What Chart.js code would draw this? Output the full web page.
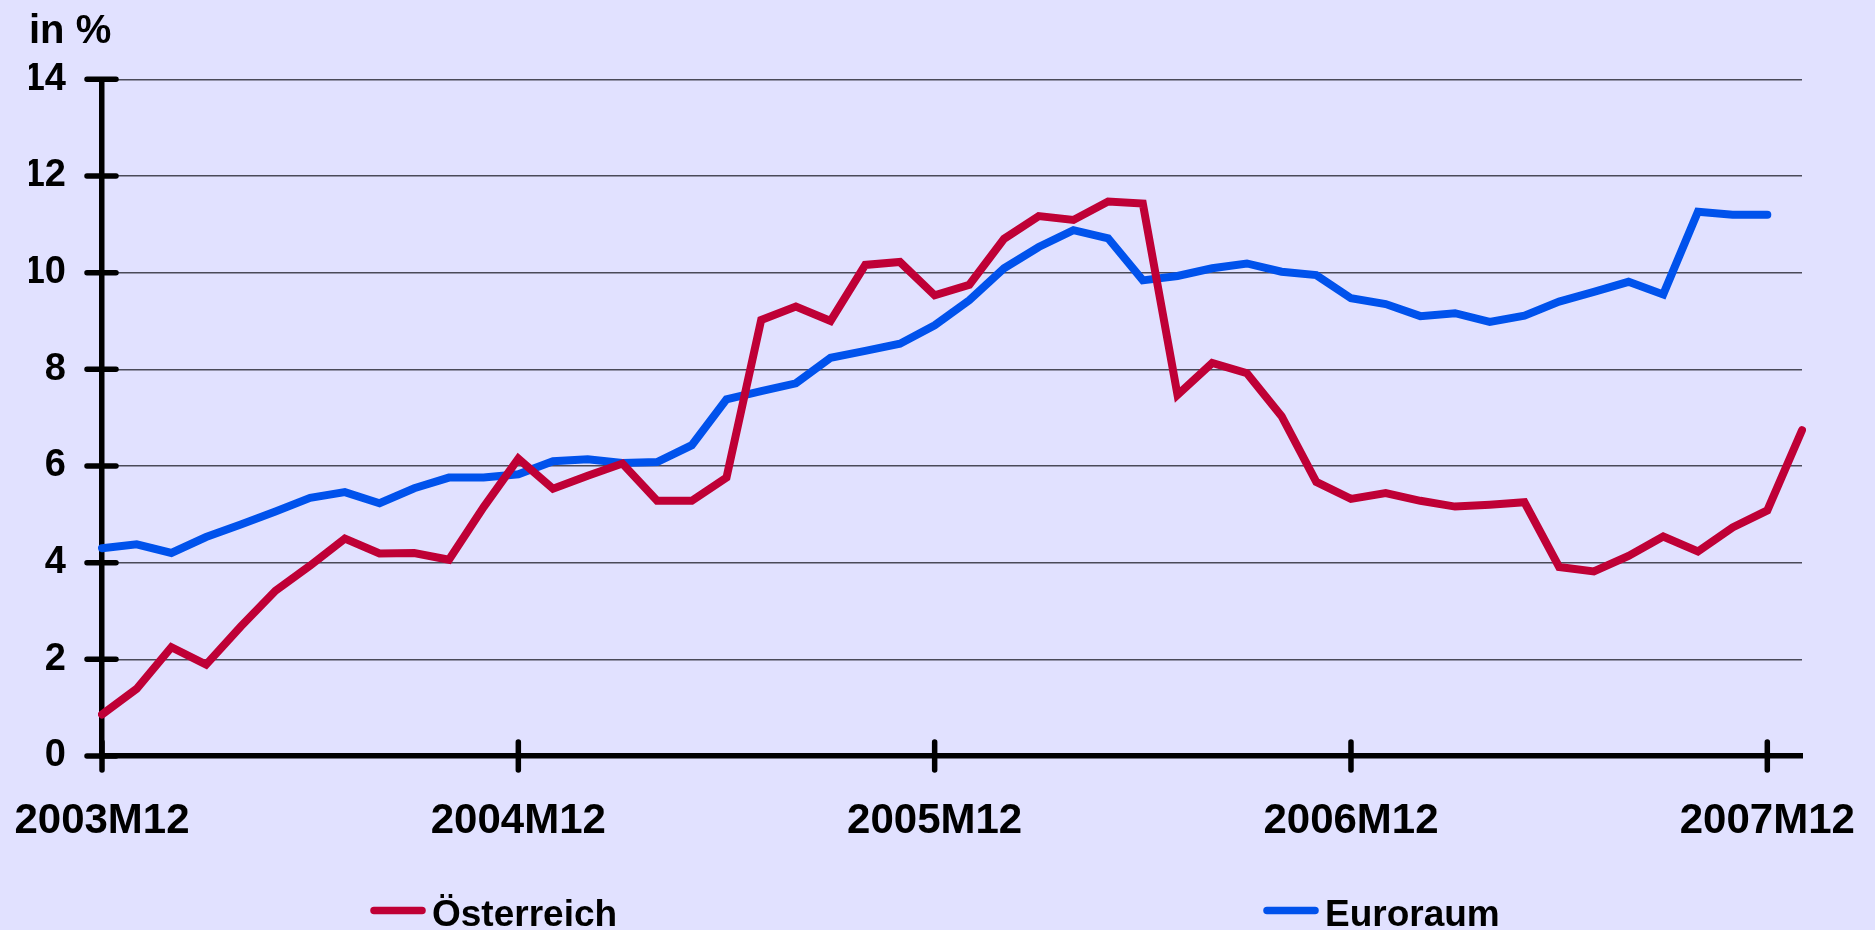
<!DOCTYPE html>
<html>
<head>
<meta charset="utf-8">
<title>Österreich / Euroraum</title>
<script src="https://cdn.jsdelivr.net/npm/chart.js@4/dist/chart.umd.min.js"></script>
<style>
    body { margin: 0; background: #E1E1FF; }
    #wrap { width: 1875px; height: 930px; position: relative; }
</style>
</head>
<body>
<div id="wrap"><canvas id="chart"></canvas></div>
<script>
// months on the x axis (2003M12 .. 2008M01)
const months = [
    "2003M12",
    "2004M01", "2004M02", "2004M03", "2004M04", "2004M05", "2004M06",
    "2004M07", "2004M08", "2004M09", "2004M10", "2004M11", "2004M12",
    "2005M01", "2005M02", "2005M03", "2005M04", "2005M05", "2005M06",
    "2005M07", "2005M08", "2005M09", "2005M10", "2005M11", "2005M12",
    "2006M01", "2006M02", "2006M03", "2006M04", "2006M05", "2006M06",
    "2006M07", "2006M08", "2006M09", "2006M10", "2006M11", "2006M12",
    "2007M01", "2007M02", "2007M03", "2007M04", "2007M05", "2007M06",
    "2007M07", "2007M08", "2007M09", "2007M10", "2007M11", "2007M12",
    "2008M01"
];
// only these months get a label + tick
const tickLabels = ["2003M12", "2004M12", "2005M12", "2006M12", "2007M12"];
const yTicks = [0, 2, 4, 6, 8, 10, 12, 14];

const oesterreich = [
    0.86, 1.39, 2.25, 1.89, 2.68, 3.42, 3.94, 4.50, 4.19, 4.20, 4.06, 5.15, 6.15,
    5.53, 5.80, 6.05, 5.28, 5.28, 5.76, 9.02, 9.30, 9.00, 10.16, 10.22, 9.53,
    9.75, 10.70, 11.17, 11.09, 11.47, 11.43, 7.47, 8.13, 7.92, 7.03, 5.67, 5.32,
    5.44, 5.28, 5.16, 5.20, 5.25, 3.91, 3.82, 4.14, 4.54, 4.23, 4.73, 5.08,
    6.74
];
const euroraum = [
    4.30, 4.38, 4.20, 4.53, 4.79, 5.06, 5.34, 5.46, 5.23, 5.54, 5.76, 5.76, 5.83,
    6.10, 6.14, 6.06, 6.08, 6.43, 7.38, 7.55, 7.71, 8.24, 8.38, 8.53, 8.91,
    9.43, 10.09, 10.53, 10.88, 10.71, 9.84, 9.93, 10.09, 10.19, 10.02, 9.95, 9.47,
    9.35, 9.10, 9.16, 8.98, 9.11, 9.40, 9.60, 9.81, 9.55, 11.26, 11.20, 11.20
];

const FONT = '"Liberation Sans", Arial, sans-serif';
Chart.defaults.font.family = FONT;
Chart.defaults.font.weight = "bold";
Chart.defaults.color = "#000";

/* ================= CROSSING TICK MARKS ================= */
const crossTicks = {
    id: "crossTicks",
    beforeDatasetsDraw(chart) {
        const { ctx, chartArea, scales } = chart;
        ctx.save();
        ctx.strokeStyle = "#000";
        ctx.lineWidth = 5.5;
        ctx.lineCap = "round";
        ctx.beginPath();
        yTicks.forEach(v => {
            const y = scales.y.getPixelForValue(v);
            ctx.moveTo(chartArea.left - 15, y);
            ctx.lineTo(chartArea.left + 14, y);
        });
        months.forEach((m, i) => {
            if (!tickLabels.includes(m)) return;
            const x = scales.x.getPixelForValue(i);
            ctx.moveTo(x, chartArea.bottom - 14);
            ctx.lineTo(x, chartArea.bottom + 14);
        });
        ctx.stroke();
        ctx.restore();
    }
};

/* ================= LEGEND (spread out along the bottom) ================= */
const bottomLegend = {
    id: "bottomLegend",
    afterDraw(chart, args, opts) {
        const ctx = chart.ctx;
        ctx.save();
        ctx.font = "bold " + opts.fontSize + "px " + FONT;
        ctx.textBaseline = "alphabetic";
        chart.data.datasets.forEach((ds, i) => {
            const x = opts.xs[i];
            ctx.strokeStyle = ds.borderColor;
            ctx.lineWidth = 7.5;
            ctx.lineCap = "round";
            ctx.beginPath();
            ctx.moveTo(x + 3, opts.lineY);
            ctx.lineTo(x + opts.sample - 3, opts.lineY);
            ctx.stroke();
            ctx.fillStyle = "#000";
            ctx.fillText(ds.label, x + opts.sample + 7, opts.textY);
        });
        ctx.restore();
    }
};

new Chart(document.getElementById("chart"), {
    type: "line",
    data: {
        labels: months,
        datasets: [
            {
                label: "Österreich",
                data: oesterreich,
                borderColor: "#BF0036",
                borderWidth: 8,
                pointRadius: 0,
                tension: 0,
                borderCapStyle: "round"
            },
            {
                label: "Euroraum",
                data: euroraum,
                borderColor: "#0052EC",
                borderWidth: 8,
                pointRadius: 0,
                tension: 0,
                borderCapStyle: "round"
            }
        ]
    },
    options: {
        responsive: true,
        maintainAspectRatio: false,
        animation: false,
        layout: { padding: { left: 29, right: 73, top: 0, bottom: 43.6 } },
        plugins: {
            legend: { display: false },
            tooltip: { enabled: false },
            title: {
                display: true,
                text: "in %",
                align: "start",
                font: { size: 40, weight: "bold" },
                color: "#000",
                padding: { top: 8, bottom: 23.3 }
            },
            bottomLegend: { xs: [371, 1264], sample: 54, lineY: 910.5, textY: 926, fontSize: 37 }
        },
        scales: {
            x: {
                offset: false,
                grid: { display: false, drawTicks: false },
                border: { display: true, color: "#000", width: 5.5 },
                ticks: {
                    autoSkip: false,
                    maxRotation: 0,
                    padding: 40,
                    font: { size: 42, weight: "bold" },
                    callback: function (value, index) {
                        const lab = months[index];
                        return tickLabels.includes(lab) ? lab : null;
                    }
                },
                afterFit: s => { s.paddingLeft = 0; s.paddingRight = 0; }
            },
            y: {
                min: 0,
                max: 14,
                afterBuildTicks: s => { s.ticks = yTicks.map(v => ({ value: v })); },
                grid: { color: "#4a4a58", lineWidth: 1.5, drawTicks: false },
                border: { display: true, color: "#000", width: 5.5 },
                ticks: { padding: 36, font: { size: 38, weight: "bold" } },
                afterFit: s => { s.width = 73; }
            }
        }
    },
    plugins: [crossTicks, bottomLegend]
});
</script>
</body>
</html>
